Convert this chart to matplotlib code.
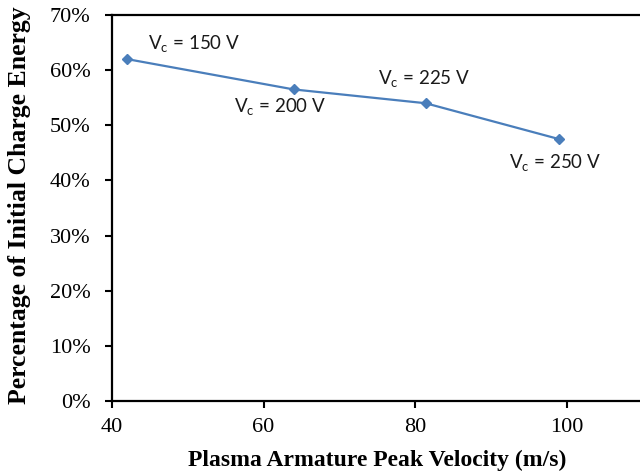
import matplotlib
matplotlib.use("Agg")
import matplotlib.pyplot as plt
from matplotlib.ticker import FuncFormatter

velocity = [42, 64, 81.4, 99]
energy_pct = [62, 56.5, 54, 47.5]
labels = [r"V$_\mathregular{c}$ = 150 V", r"V$_\mathregular{c}$ = 200 V",
          r"V$_\mathregular{c}$ = 225 V", r"V$_\mathregular{c}$ = 250 V"]
label_offsets = [(21, 15), (-60, -18), (-48, 24), (-50, -24)]
x_ticks = [40, 60, 80, 100]
y_ticks = [0, 10, 20, 30, 40, 50, 60, 70]

plt.rcParams['mathtext.fontset'] = 'custom'
plt.rcParams['mathtext.rm'] = 'Lato'

fig = plt.figure(figsize=(6.4, 4.76), dpi=100)
ax = fig.add_axes([112/640, 1 - 401/476, 606/640, (401 - 15)/476])

ax.plot(velocity, energy_pct, color='#4A7EBB', linewidth=1.6, marker='D', markersize=5)

for x, y, lab, off in zip(velocity, energy_pct, labels, label_offsets):
    ax.annotate(lab, (x, y), xytext=off, textcoords='offset pixels', ha='left', va='center',
                fontsize=13.5, family='Lato', color='#1a1a1a')

ax.set_xlim(40, 120)
ax.set_ylim(0, 70)
ax.set_xticks(x_ticks)
ax.set_yticks(y_ticks)
ax.yaxis.set_major_formatter(FuncFormatter(lambda v, p: f"{int(v)}%"))

for s in ['left', 'bottom', 'top']:
    ax.spines[s].set_linewidth(1.6)
    ax.spines[s].set_color('black')
ax.spines['right'].set_visible(False)
ax.tick_params(direction='out', length=5, width=1.5, labelsize=16)
ax.tick_params(axis='x', pad=7)
ax.tick_params(axis='y', pad=10.5)
for t in ax.get_xticklabels() + ax.get_yticklabels():
    t.set_family('Liberation Serif')

ax.set_xlabel('Plasma Armature Peak Velocity (m/s)', family='Liberation Serif', fontweight='bold',
              fontsize=17, va='center')
ax.set_ylabel('Percentage of Initial Charge Energy', family='Liberation Serif', fontweight='bold',
              fontsize=18.5, va='center')
ax.xaxis.set_label_coords(0.437, -0.153)
ax.yaxis.set_label_coords(-0.153, 0.506)

fig.savefig('out.png', dpi=100)
